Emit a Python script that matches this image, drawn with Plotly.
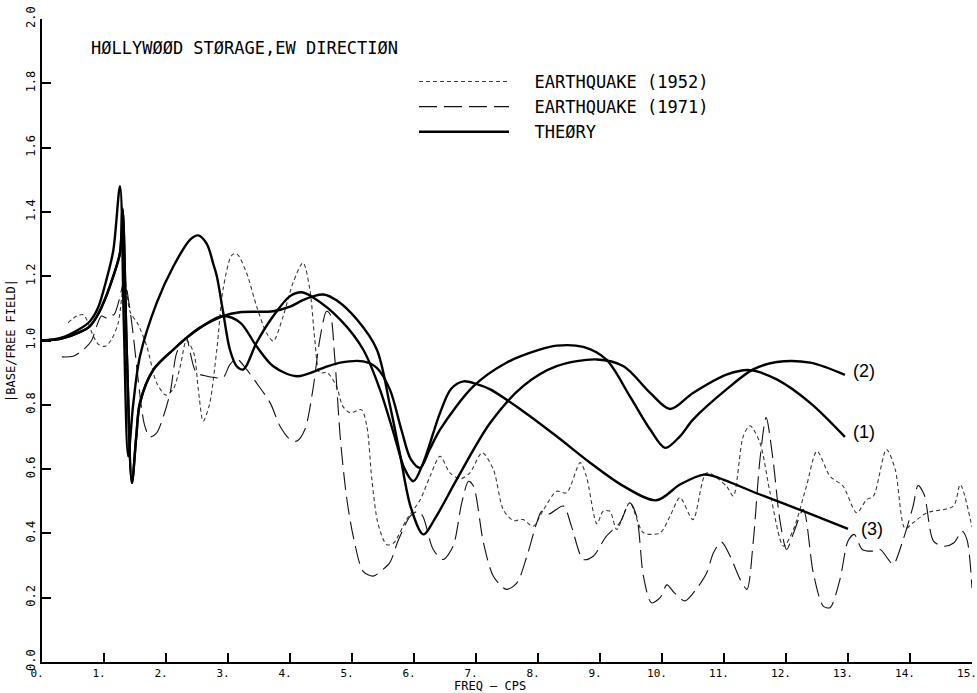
import plotly.graph_objects as go

# ---- data (frequency in cps, |base/free field|) ----
EQ1952 = [(0.42, 1.055), (0.56, 1.076), (0.67, 1.08), (0.83, 1.013), (0.91, 0.988), (1.02, 0.982),
          (1.12, 1.003), (1.23, 1.055), (1.33, 1.19), (1.42, 1.09), (1.55, 1.05), (1.69, 0.982),
          (1.85, 0.868), (2.0, 0.83), (2.12, 0.85), (2.23, 0.92), (2.33, 1.0), (2.45, 0.96),
          (2.52, 0.85), (2.6, 0.749), (2.7, 0.80), (2.82, 0.972), (2.92, 1.159), (3.06, 1.265),
          (3.14, 1.27), (3.30, 1.21), (3.46, 1.107), (3.62, 1.024), (3.73, 0.998), (3.89, 1.076),
          (4.05, 1.18), (4.21, 1.242), (4.32, 1.159), (4.40, 1.003), (4.48, 0.90), (4.6, 0.90),
          (4.75, 0.858), (4.85, 0.796), (4.97, 0.775), (5.15, 0.785), (5.24, 0.733), (5.32, 0.568),
          (5.42, 0.43), (5.56, 0.365), (5.67, 0.37), (5.88, 0.443), (6.1, 0.505), (6.26, 0.578),
          (6.42, 0.64), (6.58, 0.588), (6.75, 0.57), (6.9, 0.588), (7.1, 0.651), (7.28, 0.599),
          (7.44, 0.474), (7.6, 0.44), (7.76, 0.443), (7.92, 0.422), (8.09, 0.474), (8.3, 0.531),
          (8.46, 0.526), (8.68, 0.62), (8.78, 0.578), (8.95, 0.43), (9.05, 0.469), (9.16, 0.469),
          (9.27, 0.412), (9.48, 0.495), (9.7, 0.402), (9.97, 0.402), (10.13, 0.454), (10.29, 0.511),
          (10.5, 0.443), (10.72, 0.588), (11.04, 0.547), (11.15, 0.516), (11.31, 0.702), (11.42, 0.735),
          (11.58, 0.682), (11.74, 0.53), (11.96, 0.36), (12.12, 0.412), (12.33, 0.547), (12.5, 0.656),
          (12.71, 0.578), (12.92, 0.547), (13.14, 0.464), (13.3, 0.505), (13.41, 0.516), (13.62, 0.661),
          (13.76, 0.60), (13.92, 0.415), (14.05, 0.433), (14.27, 0.464), (14.7, 0.485), (14.81, 0.552),
          (15.0, 0.42)]

EQ1971 = [(0.32, 0.949), (0.5, 0.951), (0.67, 0.972), (0.8, 1.0), (0.88, 1.044), (0.96, 1.076),
          (1.04, 1.07), (1.10, 1.081), (1.16, 1.08), (1.25, 1.13), (1.33, 1.19), (1.40, 1.12),
          (1.47, 1.02), (1.55, 0.88), (1.65, 0.74), (1.74, 0.70), (1.85, 0.713), (1.96, 0.765),
          (2.07, 0.84), (2.17, 0.96), (2.28, 1.0), (2.33, 1.01), (2.39, 0.962), (2.49, 0.90),
          (2.66, 0.889), (2.78, 0.885), (2.92, 0.884), (3.03, 0.925), (3.14, 0.943), (3.30, 0.91),
          (3.46, 0.868), (3.68, 0.806), (3.84, 0.733), (4.0, 0.692), (4.11, 0.687), (4.24, 0.723),
          (4.37, 0.848), (4.48, 1.003), (4.59, 1.091), (4.65, 1.08), (4.72, 0.951), (4.81, 0.70),
          (4.91, 0.516), (5.02, 0.391), (5.18, 0.282), (5.34, 0.267), (5.5, 0.288), (5.61, 0.309),
          (5.75, 0.38), (5.94, 0.454), (6.07, 0.469), (6.15, 0.45), (6.31, 0.35), (6.47, 0.319),
          (6.63, 0.36), (6.77, 0.495), (6.88, 0.562), (6.96, 0.547), (7.12, 0.371), (7.28, 0.267),
          (7.49, 0.226), (7.66, 0.246), (7.82, 0.329), (7.98, 0.433), (8.06, 0.469), (8.17, 0.46),
          (8.41, 0.485), (8.54, 0.422), (8.73, 0.319), (8.89, 0.329), (9.1, 0.391), (9.32, 0.433),
          (9.48, 0.495), (9.59, 0.454), (9.7, 0.267), (9.83, 0.184), (9.97, 0.20), (10.08, 0.24),
          (10.2, 0.215), (10.37, 0.19), (10.55, 0.226), (10.72, 0.277), (10.83, 0.34), (10.96, 0.373),
          (11.1, 0.329), (11.26, 0.257), (11.37, 0.226), (11.47, 0.371), (11.58, 0.63), (11.68, 0.76),
          (11.79, 0.63), (11.9, 0.443), (12.01, 0.35), (12.12, 0.40), (12.28, 0.474), (12.44, 0.277),
          (12.6, 0.174), (12.71, 0.169), (12.87, 0.257), (13.0, 0.376), (13.1, 0.397), (13.23, 0.35),
          (13.41, 0.345), (13.52, 0.35), (13.65, 0.319), (13.73, 0.303), (13.89, 0.381), (14.05, 0.485),
          (14.13, 0.549), (14.23, 0.52), (14.38, 0.376), (14.55, 0.36), (14.71, 0.371), (14.84, 0.407),
          (14.92, 0.38), (15.0, 0.23)]

THEORY_1 = [(0.0, 1.0), (0.3, 1.005), (0.6, 1.025), (0.774, 1.045), (0.9, 1.08), (1.04, 1.14),
            (1.15, 1.2), (1.258, 1.273), (1.30, 1.41), (1.37, 0.95), (1.45, 0.557), (1.52, 0.70),
            (1.58, 0.806), (1.80, 0.91), (2.12, 0.972), (2.33, 1.008), (2.55, 1.04), (2.92, 1.076),
            (3.19, 1.088), (3.73, 1.091), (4.0, 1.105), (4.2, 1.125), (4.38, 1.138), (4.54, 1.143),
            (4.75, 1.125), (5.08, 1.065), (5.4, 0.972), (5.61, 0.80), (5.77, 0.65), (5.95, 0.48),
            (6.15, 0.397), (6.35, 0.45), (6.69, 0.568), (7.23, 0.744), (7.76, 0.858), (8.3, 0.92),
            (8.95, 0.941), (9.38, 0.92), (9.81, 0.837), (10.13, 0.787), (10.5, 0.837), (11.04, 0.894),
            (11.42, 0.908), (11.85, 0.879), (12.39, 0.806), (12.95, 0.70)]

THEORY_2 = [(0.0, 1.0), (0.3, 1.005), (0.6, 1.025), (0.774, 1.045), (0.9, 1.08), (1.04, 1.14),
            (1.15, 1.2), (1.258, 1.273), (1.30, 1.41), (1.37, 0.95), (1.45, 0.557), (1.52, 0.70),
            (1.58, 0.806), (1.80, 0.91), (2.12, 0.972), (2.33, 1.008), (2.55, 1.04), (2.92, 1.076),
            (3.2, 1.055), (3.46, 0.982), (3.73, 0.92), (4.11, 0.889), (4.54, 0.915), (4.81, 0.931),
            (5.18, 0.935), (5.4, 0.915), (5.61, 0.848), (5.8, 0.72), (5.95, 0.63), (6.1, 0.604),
            (6.25, 0.66), (6.42, 0.723), (6.96, 0.858), (7.49, 0.931), (8.0, 0.97), (8.3, 0.984),
            (8.73, 0.98), (9.1, 0.941), (9.48, 0.827), (9.81, 0.723), (10.05, 0.666), (10.29, 0.702),
            (10.5, 0.754), (11.04, 0.848), (11.47, 0.91), (11.85, 0.933), (12.39, 0.931), (12.95, 0.893)]

THEORY_3 = [(0.0, 1.0), (0.3, 1.008), (0.6, 1.035), (0.774, 1.06), (0.9, 1.1), (1.04, 1.19),
            (1.15, 1.28), (1.258, 1.48), (1.32, 1.05), (1.39, 0.64), (1.47, 0.80), (1.58, 0.951),
            (1.85, 1.117), (2.12, 1.231), (2.39, 1.314), (2.52, 1.327), (2.66, 1.30), (2.76, 1.24),
            (2.82, 1.2), (2.92, 1.09), (3.03, 0.972), (3.14, 0.92), (3.25, 0.91), (3.46, 0.993),
            (3.73, 1.076), (4.0, 1.138), (4.19, 1.15), (4.38, 1.133), (4.81, 1.065), (5.18, 0.972),
            (5.45, 0.848), (5.67, 0.713), (5.85, 0.60), (5.99, 0.562), (6.15, 0.62), (6.42, 0.775),
            (6.6, 0.85), (6.80, 0.873), (7.0, 0.865), (7.23, 0.848), (7.76, 0.78), (8.3, 0.702),
            (8.84, 0.62), (9.38, 0.547), (9.91, 0.503), (10.29, 0.552), (10.67, 0.583), (10.83, 0.578),
            (11.58, 0.521), (12.28, 0.469), (13.0, 0.414)]

CURVE_LABELS = ["(1)", "(2)", "(3)"]
CURVE_LABEL_POS = [(13.05, 0.715), (13.05, 0.905), (13.17, 0.415)]

X_TICKS = list(range(0, 16))
X_TICK_TEXT = [f"{v}." for v in X_TICKS]
Y_TICKS = [0.0, 0.2, 0.4, 0.6, 0.8, 1.0, 1.2, 1.4, 1.6, 1.8, 2.0]
Y_TICK_TEXT = ["0.0", "0.2", "0.4", "0.6", "0.8", "1.0", "1.2", "1.4", "1.6", "1.8", "2.0"]

TITLE = "HØLLYWØØD STØRAGE,EW DIRECTIØN"
LEGEND_NAMES = ["EARTHQUAKE (1952)", "EARTHQUAKE (1971)", "THEØRY"]
PLOT_FONT = "DejaVu Sans Mono, monospace"
NB = "\u00a0\u00a0"


def xs(pts):
    return [p[0] for p in pts]


def ys(pts):
    return [p[1] for p in pts]


fig = go.Figure()
fig.add_trace(go.Scatter(
    x=xs(EQ1952), y=ys(EQ1952), mode="lines", name=NB + LEGEND_NAMES[0], legendgroup="a",
    line=dict(color="#3a3a3a", width=1.1, dash="4px,3px", shape="spline", smoothing=0.8)))
fig.add_trace(go.Scatter(
    x=xs(EQ1971), y=ys(EQ1971), mode="lines", name=NB + LEGEND_NAMES[1], legendgroup="b",
    line=dict(color="#111111", width=1.1, dash="18px,7px", shape="spline", smoothing=0.8)))
for i, pts in enumerate([THEORY_1, THEORY_2, THEORY_3]):
    fig.add_trace(go.Scatter(
        x=xs(pts), y=ys(pts), mode="lines", name=NB + LEGEND_NAMES[2], legendgroup="c",
        showlegend=(i == 0),
        line=dict(color="black", width=2.4, shape="spline", smoothing=0.9)))

annotations = [
    dict(text=TITLE, xref="paper", yref="paper", x=0.051, y=0.955, xanchor="left",
         yanchor="middle", showarrow=False, font=dict(family=PLOT_FONT, size=17, color="black")),
    dict(text="|BASE/FREE FIELD|", xref="paper", yref="paper", x=-0.034, y=0.5,
         textangle=-90, xanchor="center", yanchor="middle", showarrow=False,
         font=dict(family=PLOT_FONT, size=12, color="black")),
    dict(text="FREQ — CPS", xref="paper", yref="paper", x=0.482, y=-0.038,
         xanchor="center", yanchor="middle", showarrow=False,
         font=dict(family=PLOT_FONT, size=12, color="black")),
]
for lab, (lx, ly) in zip(CURVE_LABELS, CURVE_LABEL_POS):
    annotations.append(dict(text=lab, x=lx, y=ly, xref="x", yref="y", xanchor="left",
                            yanchor="middle", showarrow=False,
                            font=dict(family="Liberation Sans, Arial, sans-serif", size=18,
                                      color="black")))

fig.update_layout(
    width=977, height=693,
    margin=dict(l=42, r=5, t=19, b=31, autoexpand=False),
    paper_bgcolor="white", plot_bgcolor="white",
    showlegend=True,
    legend=dict(x=0.4, y=0.93, xanchor="left", yanchor="top", bgcolor="rgba(0,0,0,0)",
                font=dict(family=PLOT_FONT, size=17, color="black"), itemwidth=90,
                tracegroupgap=8, traceorder="normal"),
    annotations=annotations,
)
fig.update_xaxes(range=[0, 15], tickvals=X_TICKS, ticktext=X_TICK_TEXT, showgrid=False,
                 zeroline=False, showline=True, linecolor="black", linewidth=1.5,
                 ticks="inside", ticklen=9, tickwidth=1.5, tickcolor="black",
                 automargin=False, ticklabeloverflow="allow", ticklabelshift=-5,
                 tickfont=dict(family=PLOT_FONT, size=11, color="black"))
fig.update_yaxes(range=[0, 2], tickvals=Y_TICKS, ticktext=Y_TICK_TEXT, showgrid=False,
                 zeroline=False, showline=True, linecolor="black", linewidth=1.5,
                 ticks="inside", ticklen=9, tickwidth=1.5, tickcolor="black", tickangle=-90,
                 automargin=False, ticklabeloverflow="allow",
                 tickfont=dict(family=PLOT_FONT, size=12, color="black"))

fig.write_html("out.html", config={"displayModeBar": False},
               post_script="document.body.style.margin='0px';document.body.style.overflow='hidden';")
